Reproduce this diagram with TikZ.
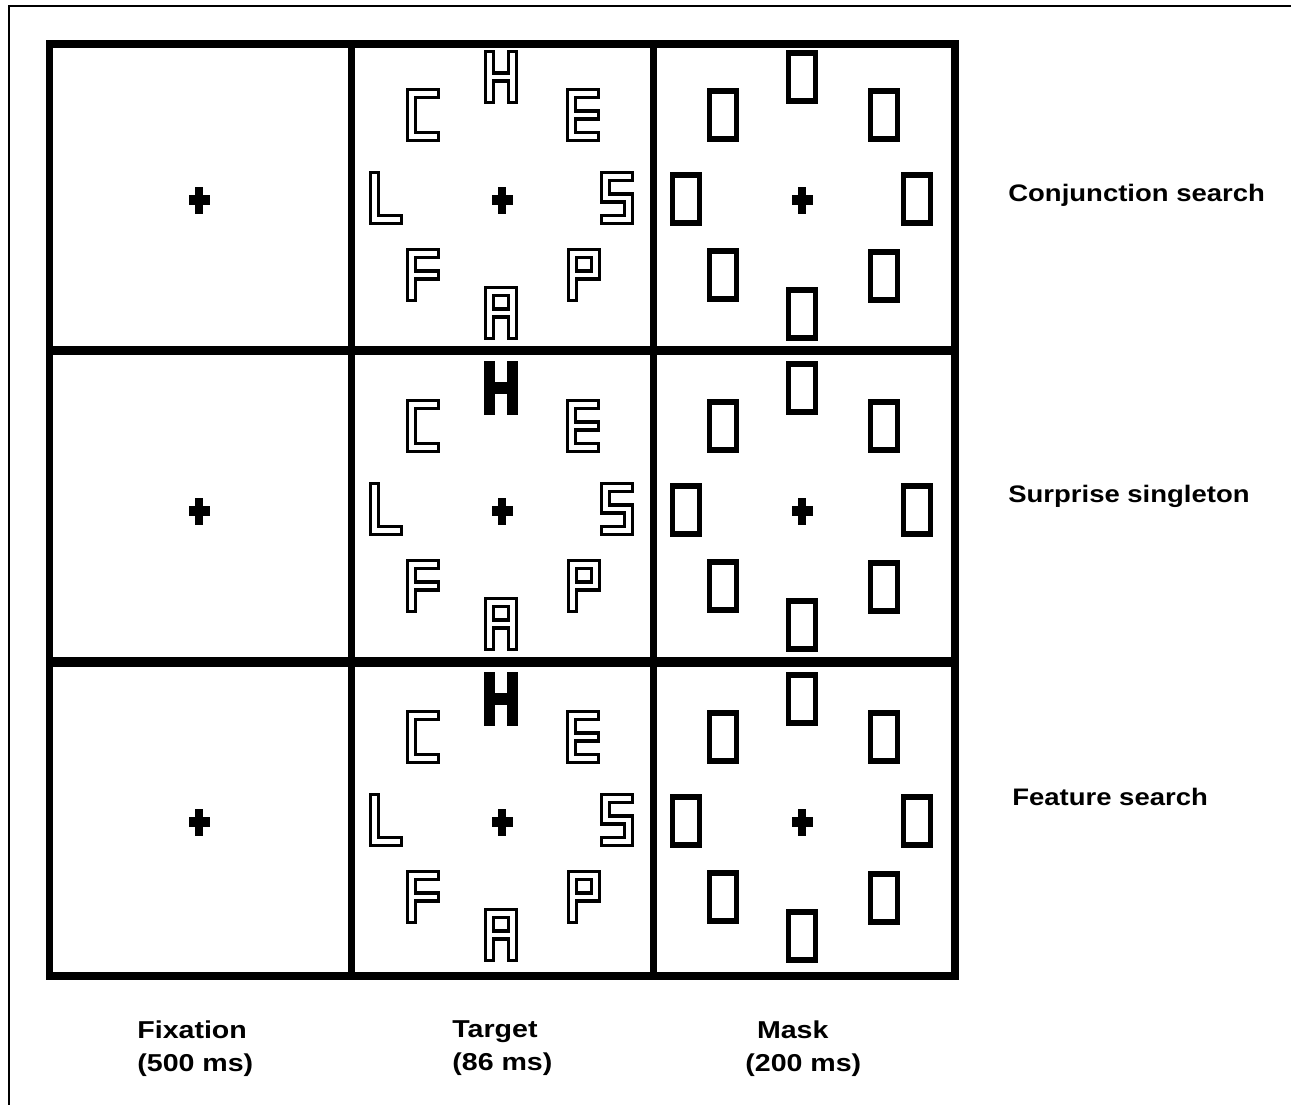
\documentclass[tikz,border=0pt]{standalone}
\usepackage{fontspec}
\setmainfont{Liberation Sans}
\newfontfamily\rowfont[FakeStretch=1.15]{Liberation Sans}
\newfontfamily\timefont[FakeStretch=1.17]{Liberation Sans}
\begin{document}
\begin{tikzpicture}[x=0.02cm, y=-0.02cm,
	grid/.style={line width=4.5pt},
	outl/.style={draw=black, line width=1.8pt, double=white, double distance=2.7pt, line cap=rect, line join=miter},
	solidl/.style={draw=black, line width=6.3pt, line cap=rect, line join=miter},
	maskbox/.style={draw=black, line width=3.3pt},
	caption/.style={anchor=west, inner sep=0pt, font=\rowfont\bfseries\fontsize{13.6}{15}\selectfont},
	timing/.style={anchor=north west, inner sep=0pt, align=left, font=\timefont\bfseries\fontsize{13.9}{18.9}\selectfont},
	pics/letL/.style={code={\draw[#1] (-11.5,-21.5) -- (-11.5,21.5) -- (11.5,21.5);}},
	pics/letC/.style={code={\draw[#1] (11.5,-21.5) -- (-11.5,-21.5) -- (-11.5,21.5) -- (11.5,21.5);}},
	pics/letE/.style={code={\draw[#1] (11.5,-21.5) -- (-11.5,-21.5) -- (-11.5,21.5) -- (11.5,21.5) (-11.5,0) -- (11.5,0);}},
	pics/letF/.style={code={\draw[#1] (11.5,-21.5) -- (-11.5,-21.5) -- (-11.5,21.5) (-11.5,0) -- (11.5,0);}},
	pics/letP/.style={code={\draw[#1] (-11.5,21.5) -- (-11.5,-21.5) -- (11.5,-21.5) -- (11.5,0) -- (-11.5,0);}},
	pics/letS/.style={code={\draw[#1] (11.5,-21.5) -- (-11.5,-21.5) -- (-11.5,0) -- (11.5,0) -- (11.5,21.5) -- (-11.5,21.5);}},
	pics/letH/.style={code={\draw[#1] (-11.5,-21.5) -- (-11.5,21.5) (11.5,-21.5) -- (11.5,21.5) (-11.5,0) -- (11.5,0);}},
	pics/letA/.style={code={\draw[#1] (-11.5,21.5) -- (-11.5,-21.5) -- (11.5,-21.5) -- (11.5,21.5) (-11.5,0) -- (11.5,0);}},
	pics/mbox/.style={code={\draw[maskbox] (-13.5,-24) rectangle (13.5,24);}},
	pics/fix/.style={code={\fill (-10.5,-5) rectangle (10.5,5); \fill (-3.75,-13.5) rectangle (3.75,13.5);}}]
	\useasboundingbox (0,0) rectangle (1291,1105);
	\clip (0,0) rectangle (1291,1105);
	%frame
	\draw[line width=1.1pt] (9,1120) -- (9,6) -- (1300,6);
	%
	%grid
	\draw[grid] (49.5,44) rectangle (955,976);
	\draw[line width=4pt] (351.5,44) -- (351.5,976);
	\draw[line width=4pt] (653.5,44) -- (653.5,976);
	\draw[line width=5.5pt] (49.5,350.5) -- (955,350.5);
	\draw[line width=5.5pt] (49.5,662) -- (955,662);
	%
	%fixation, target, mask per row
	\foreach \y in {200, 511, 822} {
		\pic at (199,\y) {fix};
		\pic at (502,\y) {fix};
		\pic at (802,\y) {fix};
		%letters
		\pic at (423,\y-85) {letC=outl};
		\pic at (583,\y-85) {letE=outl};
		\pic at (386,\y-2) {letL=outl};
		\pic at (617,\y-2) {letS=outl};
		\pic at (423,\y+75) {letF=outl};
		\pic at (584,\y+75) {letP=outl};
		\pic at (501,\y+113) {letA=outl};
		%masks
		\pic at (802,\y-123) {mbox};
		\pic at (723,\y-85) {mbox};
		\pic at (884,\y-85) {mbox};
		\pic at (686,\y-1) {mbox};
		\pic at (917,\y-1) {mbox};
		\pic at (723,\y+75) {mbox};
		\pic at (884,\y+76) {mbox};
		\pic at (802,\y+114) {mbox};
	}
	%the H: plain in conjunction, bold singleton below
	\pic at (501,77) {letH=outl};
	\pic at (501,388) {letH=solidl};
	\pic at (501,699) {letH=solidl};
	%
	%labels
	\node[caption] (conj) at (1008,195) {Conjunction search};
	\node[caption] (surp) at (1008,496) {Surprise singleton};
	\node[caption] (feat) at (1012,797) {Feature search};
	\node[timing] (fixl) at (137,1020) {Fixation\\(500 ms)};
	\node[timing] (targl) at (452,1020) {Target\\(86 ms)};
	\node[timing, align=center] (maskl) at (745,1020) {\hspace*{-12pt}Mask\\(200 ms)};
\end{tikzpicture}
\end{document}
